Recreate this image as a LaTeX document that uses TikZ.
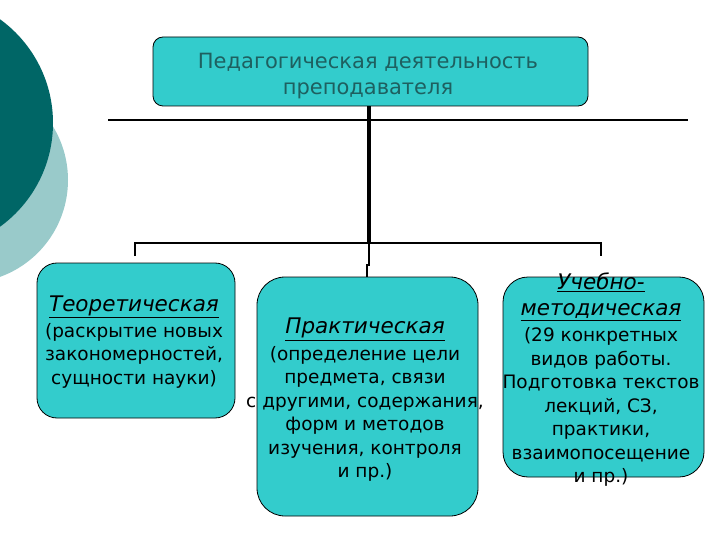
\documentclass[tikz,border=0pt]{standalone}
\usepackage{fontspec}
\setmainfont{DejaVu Sans}
\definecolor{boxfill}{RGB}{51,204,204}
\definecolor{darkcirc}{RGB}{0,102,102}
\definecolor{lightcirc}{RGB}{153,202,202}
\definecolor{toptext}{RGB}{30,96,96}
\newcommand{\hd}[1]{{\fontsize{21.5}{24}\selectfont\underline{\textit{#1}}}}
\tikzset{
  box/.style={draw=black, line width=0.8pt, fill=boxfill, rectangle, inner sep=0pt},
  txt/.style={align=center, inner sep=0pt, font=\fontsize{18.5}{23.5}\selectfont, text=black},
  toptxt/.style={align=center, inner sep=0pt, font=\fontsize{21}{25.5}\selectfont, text=toptext},
  conn/.style={draw=black, line width=2pt},
}
\begin{document}
\begin{tikzpicture}[x=1pt,y=-1pt]
\useasboundingbox (0,0) rectangle (720,540);
% background circles
\fill[lightcirc] (-35,180) circle (103);
\fill[darkcirc] (-75,123) circle (128);
% boxes
\node[box, rounded corners=10pt, minimum width=435pt, minimum height=69pt] (top) at (370.5,71.5) {};
\node[box, rounded corners=20pt, minimum width=198pt, minimum height=155pt] (left) at (136,340.5) {};
\node[box, rounded corners=28pt, minimum width=221pt, minimum height=239pt] (mid) at (367.5,396.5) {};
\node[box, rounded corners=25pt, minimum width=201pt, minimum height=200pt] (right) at (603.5,377) {};
% texts
\node[toptxt] (toplbl) at (368,76) {Педагогическая деятельность\\преподавателя};
\node[txt] (leftlbl) at (134,342) {\hd{Теоретическая}\\[2pt](раскрытие новых\\закономерностей,\\сущности науки)};
\node[txt] (midlbl) at (365,400) {\hd{Практическая}\\[3pt](определение цели\\предмета, связи\\с другими, содержания,\\форм и методов\\изучения, контроля\\и пр.)};
\node[txt] (rightlbl) at (601,380) {\hd{Учебно-}\\[2pt]\hd{методическая}\\[3pt](29 конкретных\\видов работы.\\Подготовка текстов\\лекций, СЗ,\\практики,\\взаимопосещение\\и пр.)};
% lines
\coordinate (hl) at (108,120);
\coordinate (hr) at (688,120);
\draw[line width=1.2pt] (hl) -- (hr);
\coordinate (hub) at (369,243);
\coordinate (bl) at (135,243);
\coordinate (br) at (601,243);
\coordinate (blt) at (135,256);
\coordinate (brt) at (601,256);
\coordinate (jog) at (367,265);
\draw[line width=4.5pt] (top.south -| hub) -- (hub);
\draw[conn] (blt) -- (bl) -- (br) -- (brt);
\draw[line width=1.5pt] (hub) |- (jog) -- (jog |- mid.north);
\end{tikzpicture}
\end{document}
